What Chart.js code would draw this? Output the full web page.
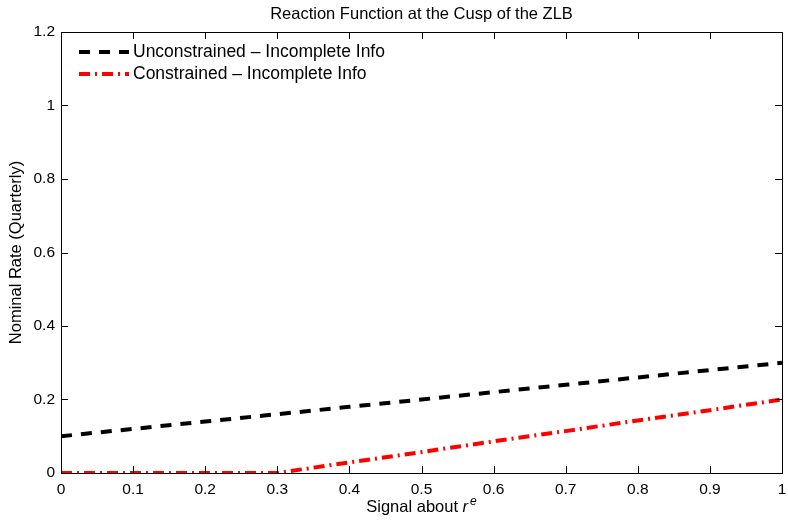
<!DOCTYPE html>
<html>
<head>
<meta charset="utf-8">
<script src="https://cdn.jsdelivr.net/npm/chart.js@4.4.1/dist/chart.umd.min.js"></script>
<style>
  html, body { margin: 0; padding: 0; background: #fff; }
  #wrap { width: 788px; height: 523px; }
</style>
</head>
<body>
<div id="wrap"><canvas id="chart"></canvas></div>
<script>
// data
const signal = [0, 0.1, 0.2, 0.3, 0.4, 0.5, 0.6, 0.7, 0.8, 0.9, 1];
const unconstrained = [0.1, 0.12, 0.14, 0.16, 0.18, 0.2, 0.22, 0.24, 0.26, 0.28, 0.3];
const constrained = [0, 0, 0, 0, 0.029, 0.057, 0.086, 0.114, 0.143, 0.171, 0.2];
const xTicks = [0, 0.1, 0.2, 0.3, 0.4, 0.5, 0.6, 0.7, 0.8, 0.9, 1];
const yTicks = [0, 0.2, 0.4, 0.6, 0.8, 1, 1.2];
const seriesNames = ['Unconstrained \u2013 Incomplete Info', 'Constrained \u2013 Incomplete Info'];

const FONT = 'Liberation Sans, Arial, Helvetica, sans-serif';

function pts(ys) {
    return signal.map((x, i) => ({x: x, y: ys[i]}));
}

// box, inward ticks, axis titles and legend (matlab look)
const matlabFrame = {
    id: 'matlabFrame',
    afterDraw(chart) {
        const ctx = chart.ctx;
        const a = chart.chartArea;
        const xs = chart.scales.x, ys = chart.scales.y;
        ctx.save();
        ctx.strokeStyle = '#000';
        ctx.lineWidth = 1;
        ctx.beginPath();
        xTicks.forEach(v => {
            const px = Math.round(xs.getPixelForValue(v)) + 0.5;
            ctx.moveTo(px, a.bottom); ctx.lineTo(px, a.bottom - 7);
            ctx.moveTo(px, a.top); ctx.lineTo(px, a.top + 7);
        });
        yTicks.forEach(v => {
            const py = Math.round(ys.getPixelForValue(v)) + 0.5;
            ctx.moveTo(a.left, py); ctx.lineTo(a.left + 7, py);
            ctx.moveTo(a.right, py); ctx.lineTo(a.right - 7, py);
        });
        ctx.stroke();
        ctx.strokeRect(Math.round(a.left) + 0.5, Math.round(a.top) + 0.5,
            Math.round(a.right - a.left), Math.round(a.bottom - a.top));

        // title
        ctx.fillStyle = '#000';
        ctx.font = '16.5px ' + FONT;
        ctx.textAlign = 'center';
        ctx.textBaseline = 'middle';
        ctx.fillText('Reaction Function at the Cusp of the ZLB', (a.left + a.right) / 2, 14);

        // x axis title with italic r and superscript e
        const cx = (a.left + a.right) / 2;
        const t1 = 'Signal about ';
        ctx.font = '16.5px ' + FONT;
        const w1 = ctx.measureText(t1).width;
        ctx.font = 'italic 16.5px ' + FONT;
        const w2 = ctx.measureText('r').width + 2;
        ctx.font = 'italic 12px ' + FONT;
        const w3 = ctx.measureText('e').width;
        let sx = cx - (w1 + w2 + w3) / 2;
        ctx.textAlign = 'left';
        ctx.textBaseline = 'alphabetic';
        ctx.font = '16.5px ' + FONT;
        ctx.fillText(t1, sx, 512);
        ctx.font = 'italic 16.5px ' + FONT;
        ctx.fillText('r', sx + w1, 512);
        ctx.font = 'italic 12px ' + FONT;
        ctx.fillText('e', sx + w1 + w2, 505);

        // y axis title
        ctx.save();
        ctx.translate(16, (a.top + a.bottom) / 2);
        ctx.rotate(-Math.PI / 2);
        ctx.font = '16.5px ' + FONT;
        ctx.textAlign = 'center';
        ctx.textBaseline = 'middle';
        ctx.fillText('Nominal Rate (Quarterly)', 0, 0);
        ctx.restore();

        // legend
        chart.data.datasets.forEach((ds, i) => {
            const ly = 52 + i * 22;
            ctx.save();
            ctx.strokeStyle = ds.borderColor;
            ctx.lineWidth = ds.borderWidth;
            ctx.setLineDash(ds.borderDash);
            ctx.beginPath();
            ctx.moveTo(79, ly);
            ctx.lineTo(129, ly);
            ctx.stroke();
            ctx.restore();
            ctx.fillStyle = '#000';
            ctx.font = '17.5px ' + FONT;
            ctx.textAlign = 'left';
            ctx.textBaseline = 'middle';
            ctx.fillText(ds.label, 133, ly);
        });
        ctx.restore();
    }
};

const chart = new Chart(document.getElementById('chart'), {
    type: 'line',
    data: {
        datasets: [
            {
                label: seriesNames[0],
                data: pts(unconstrained),
                borderColor: '#000',
                borderWidth: 4,
                borderDash: [11, 9],
                pointRadius: 0,
                fill: false,
                tension: 0
            },
            {
                label: seriesNames[1],
                data: pts(constrained),
                borderColor: '#ff0000',
                borderWidth: 4,
                borderDash: [11, 5, 2, 5],
                pointRadius: 0,
                fill: false,
                tension: 0
            }
        ]
    },
    options: {
        responsive: true,
        maintainAspectRatio: false,
        animation: false,
        layout: { padding: { top: 32, right: 6, left: 0, bottom: 0 } },
        plugins: {
            legend: { display: false },
            title: { display: false },
            tooltip: { enabled: false }
        },
        scales: {
            x: {
                type: 'linear',
                min: 0,
                max: 1,
                grid: { display: false, drawTicks: false },
                border: { display: false },
                afterBuildTicks: s => { s.ticks = xTicks.map(v => ({value: v})); },
                afterFit: s => { s.height = 50; s.paddingLeft = 0; s.paddingRight = 0; },
                ticks: {
                    color: '#000',
                    font: { family: FONT, size: 15.5 },
                    padding: 7,
                    maxRotation: 0,
                    callback: v => String(v)
                }
            },
            y: {
                type: 'linear',
                min: 0,
                max: 1.2,
                grid: { display: false, drawTicks: false },
                border: { display: false },
                afterBuildTicks: s => { s.ticks = yTicks.map(v => ({value: v})); },
                afterFit: s => { s.width = 61; s.paddingTop = 0; s.paddingBottom = 0; },
                ticks: {
                    color: '#000',
                    font: { family: FONT, size: 15.5 },
                    padding: 6,
                    callback: v => String(Math.round(v * 10) / 10)
                }
            }
        }
    },
    plugins: [matlabFrame]
});
</script>
</body>
</html>
